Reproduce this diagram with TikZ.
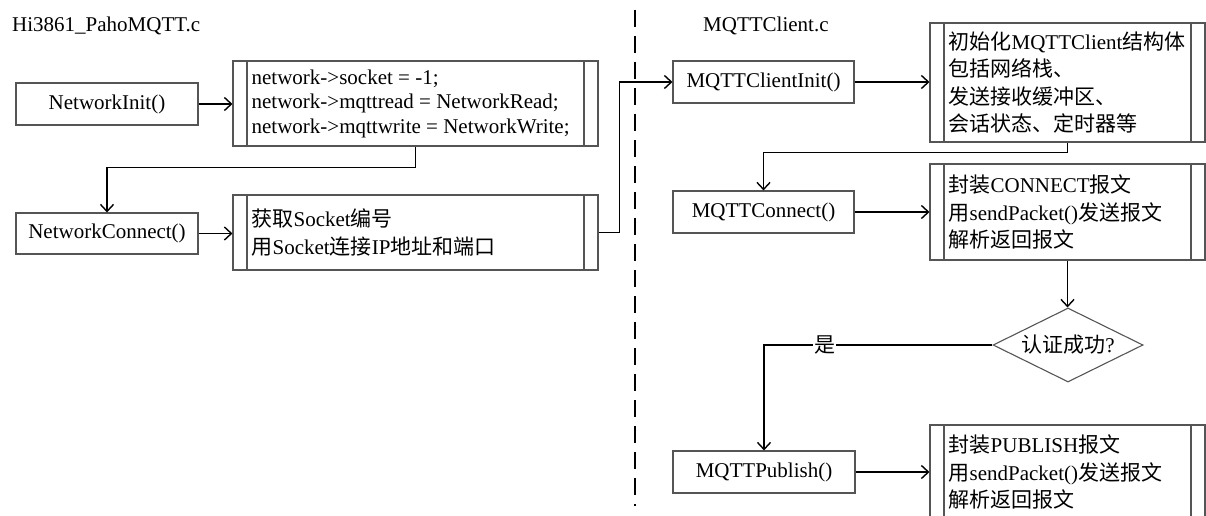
\documentclass[tikz,border=0pt]{standalone}
\usepackage{fontspec}
\setmainfont{Liberation Serif}
\newfontfamily\cjk{Noto Sans CJK SC}
\newcommand{\zh}[1]{{\cjk #1}}
\usetikzlibrary{arrows.meta,shapes.geometric}
\definecolor{boxgray}{HTML}{555555}

\begin{document}
\begin{tikzpicture}[x=1pt,y=-1pt,
  every node/.style={font=\fontsize{21}{24.5}\selectfont},
  func/.style={draw=boxgray, line width=1.1pt, minimum width=182pt,
    minimum height=42pt, inner sep=0pt},
  proc/.style={draw=boxgray, line width=1.1pt, inner sep=0pt,
    path picture={
      \draw[boxgray, line width=1.1pt]
        ([xshift=14pt]path picture bounding box.north west) --
        ([xshift=14pt]path picture bounding box.south west);
      \draw[boxgray, line width=1.1pt]
        ([xshift=-14pt]path picture bounding box.north east) --
        ([xshift=-14pt]path picture bounding box.south east);}},
  note/.style={anchor=west, align=left, inner sep=0pt},
  zhnote/.style={note, font=\fontsize{21}{27.5}\selectfont},
  decision/.style={draw=boxgray, line width=1.1pt, shape=diamond,
    aspect=2.03, minimum width=150pt, minimum height=74pt, inner sep=0pt},
  flow/.style={line width=1.4pt, -{Straight Barb[length=7pt,width=13pt]}},
  separator/.style={line width=1.3pt, dash pattern=on 17pt off 9pt},
]
\useasboundingbox (0,0) rectangle (1206,516);
\clip (0,0) rectangle (1206,516);

% file headings
\node[anchor=base west, inner sep=0pt] (lfile) at (12,32) {Hi3861\_PahoMQTT.c};
\node[anchor=base west, inner sep=0pt] (rfile) at (703,32) {MQTTClient.c};

% boundary between the two source files
\coordinate (sepTop) at (635,10);
\coordinate (sepBot) at (635,506);
\draw[separator] (sepTop) -- (sepBot);

% Hi3861_PahoMQTT.c
\node[func] (ni) at (107,104) {NetworkInit()};
\node[func, minimum height=41pt] (nc) at (107,233.5) {NetworkConnect()};
\node[proc, minimum width=365pt, minimum height=85pt] (p1) at (415.5,103.5) {};
\node[note] (t1) at ([xshift=19pt]p1.west)
  {network->socket = -1;\\network->mqttread = NetworkRead;\\network->mqttwrite = NetworkWrite;};
\node[proc, minimum width=365pt, minimum height=75pt] (p2) at (415.5,232.5) {};
\node[zhnote] (t2) at ([xshift=19pt]p2.west)
  {\zh{获取}Socket\zh{编号}\\\zh{用}Socket\zh{连接}IP\zh{地址和端口}};

% MQTTClient.c
\node[func, minimum width=181pt] (ci) at (763.5,82) {MQTTClientInit()};
\node[proc, minimum width=275pt, minimum height=119pt] (p3) at (1067.5,82.5) {};
\node[zhnote] (t3) at ([xshift=19pt]p3.west)
  {\zh{初始化}MQTTClient\zh{结构体}\\\zh{包括网络栈、}\\\zh{发送接收缓冲区、}\\\zh{会话状态、定时器等}};
\node[func, minimum width=181pt] (cc) at (763.5,212) {MQTTConnect()};
\node[proc, minimum width=275pt, minimum height=96pt] (p4) at (1067.5,212) {};
\node[zhnote] (t4) at ([xshift=19pt]p4.west)
  {\zh{封装}CONNECT\zh{报文}\\\zh{用}sendPacket()\zh{发送报文}\\\zh{解析返回报文}};
\node[decision] (dec) at (1068,345) {\zh{认证成功}?};
\node[func] (pub) at (764,472) {MQTTPublish()};
\node[proc, minimum width=275pt, minimum height=94pt] (p5) at (1067.5,472) {};
\node[zhnote] (t5) at ([xshift=19pt]p5.west)
  {\zh{封装}PUBLISH\zh{报文}\\\zh{用}sendPacket()\zh{发送报文}\\\zh{解析返回报文}};

% connectors
\draw[flow] (ni.east) -- (ni.east -| p1.west);
\draw[flow] (p1.south) -- ++(0,21) -| (nc.north);
\draw[flow] (nc.east) -- (nc.east -| p2.west);
\draw[flow] (p2.east) -- ++(21,0) |- (ci.west);
\draw[flow] (ci.east) -- (ci.east -| p3.west);
\draw[flow] (p3.south) -- ++(0,10) -| (cc.north);
\draw[flow] (cc.east) -- (cc.east -| p4.west);
\draw[flow] (p4.south) -- (p4.south |- dec.north);
\draw[flow] (dec.west) -| node[pos=0.367, fill=white, inner sep=1pt] (yes) {\zh{是}} (pub.north);
\draw[flow] (pub.east) -- (pub.east -| p5.west);
\end{tikzpicture}
\end{document}
